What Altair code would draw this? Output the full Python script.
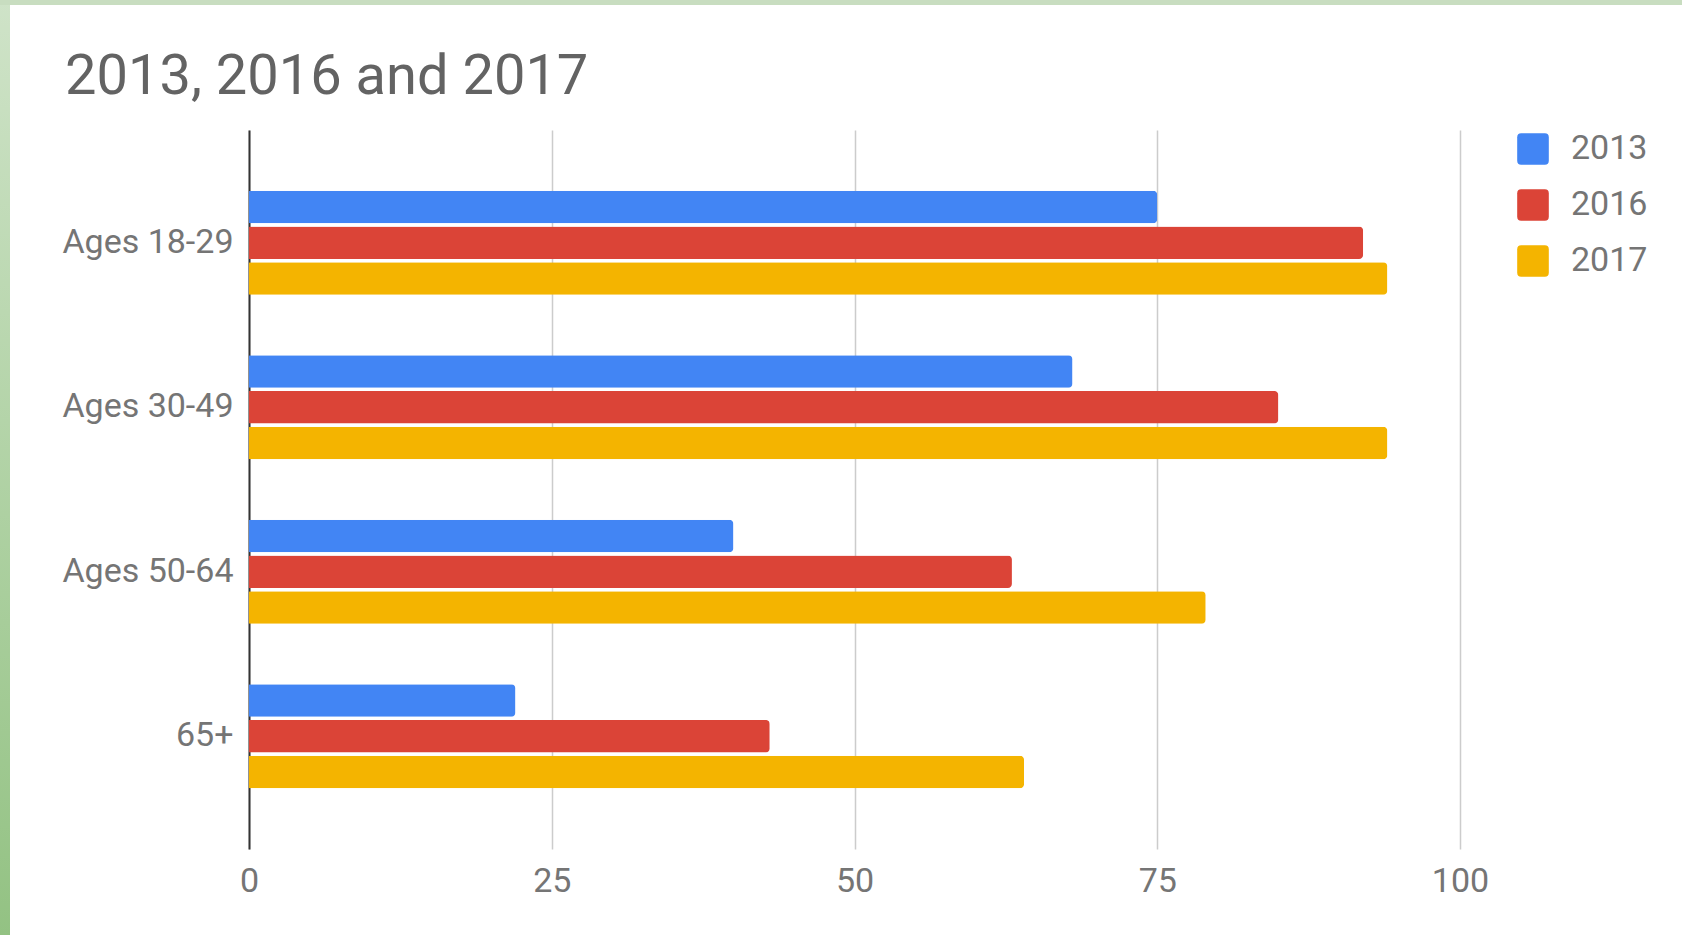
import altair as alt
import pandas as pd

# ---- data ----
age_groups = ["Ages 18-29", "Ages 30-49", "Ages 50-64", "65+"]
years = ["2013", "2016", "2017"]
values_2013 = [75, 68, 40, 22]
values_2016 = [92, 85, 63, 43]
values_2017 = [94, 94, 79, 64]
x_ticks = [0, 25, 50, 75, 100]
year_colors = ["#4285F4", "#DB4437", "#F4B400"]

rows = []
for i, g in enumerate(age_groups):
    for y, vals in zip(years, [values_2013, values_2016, values_2017]):
        rows.append({"Age": g, "Year": y, "Value": vals[i]})
df = pd.DataFrame(rows)

PLOT_W, PLOT_H = 1211, 719
LEFT, TOP = 249, 130
RIGHT = 1682 - LEFT - PLOT_W
BOTTOM = 935 - TOP - PLOT_H

LABEL_COLOR = "#757575"
FONT = "Roboto"

rounded_square = "M -1 -0.75 Q -1 -1 -0.75 -1 L 0.75 -1 Q 1 -1 1 -0.75 L 1 0.75 Q 1 1 0.75 1 L -0.75 1 Q -1 1 -1 0.75 Z"

bars = alt.Chart(df).mark_bar(cornerRadiusEnd=4).encode(
    y=alt.Y("Age:N", sort=age_groups, title=None,
            scale=alt.Scale(paddingInner=0.368, paddingOuter=0.37),
            axis=alt.Axis(domain=True, domainColor="#333333", domainWidth=2,
                          ticks=False, tickSize=0, labelPadding=16,
                          labelFontSize=34, labelColor=LABEL_COLOR, labelFont=FONT,
                          labelLimit=400, grid=False)),
    yOffset=alt.YOffset("Year:N", sort=years, scale=alt.Scale(paddingInner=0.09)),
    x=alt.X("Value:Q", title=None,
            scale=alt.Scale(domain=[0, 100], nice=False),
            axis=alt.Axis(values=x_ticks, domain=False, ticks=False, tickSize=0,
                          labelFlush=False, labelOverlap=False,
                          labelPadding=15, labelFontSize=34, labelColor=LABEL_COLOR,
                          labelFont=FONT, grid=True, gridColor="#cccccc", gridWidth=1.5)),
    color=alt.Color("Year:N", sort=years,
                    scale=alt.Scale(domain=years, range=year_colors),
                    legend=alt.Legend(title=None, orient="none", legendX=1267, legendY=2,
                                      symbolType=rounded_square, symbolSize=1000,
                                      symbolStrokeWidth=0, labelFontSize=34,
                                      labelColor=LABEL_COLOR, labelFont=FONT,
                                      labelOffset=21, rowPadding=22, padding=0)),
)

frame_df = pd.DataFrame({"k": [0]})
left_strip = alt.Chart(frame_df).mark_rect(
    color=alt.LinearGradient(
        gradient="linear",
        stops=[alt.GradientStop(color="#cfe3c8", offset=0),
               alt.GradientStop(color="#93c283", offset=1)],
        x1=0, x2=0, y1=0, y2=1)
).encode(x=alt.value(-LEFT), x2=alt.value(-LEFT + 10),
         y=alt.value(-TOP), y2=alt.value(PLOT_H + BOTTOM))
top_strip = alt.Chart(frame_df).mark_rect(color="#c8ddc0").encode(
    x=alt.value(-LEFT), x2=alt.value(PLOT_W + RIGHT),
    y=alt.value(-TOP), y2=alt.value(-TOP + 5))

chart = alt.layer(left_strip, top_strip, bars).properties(
    width=PLOT_W, height=PLOT_H,
    title=alt.TitleParams("2013, 2016 and 2017", anchor="start", frame="bounds",
                          fontSize=56, font=FONT, fontWeight="normal", color="#636363",
                          baseline="alphabetic", offset=0, dx=65, dy=150),
    autosize=alt.AutoSizeParams(type="none"),
    padding={"left": LEFT, "top": TOP, "right": RIGHT, "bottom": BOTTOM},
    background="white",
).configure_view(strokeWidth=0)

chart.save("out.html", embed_options={"renderer": "svg", "actions": False})
